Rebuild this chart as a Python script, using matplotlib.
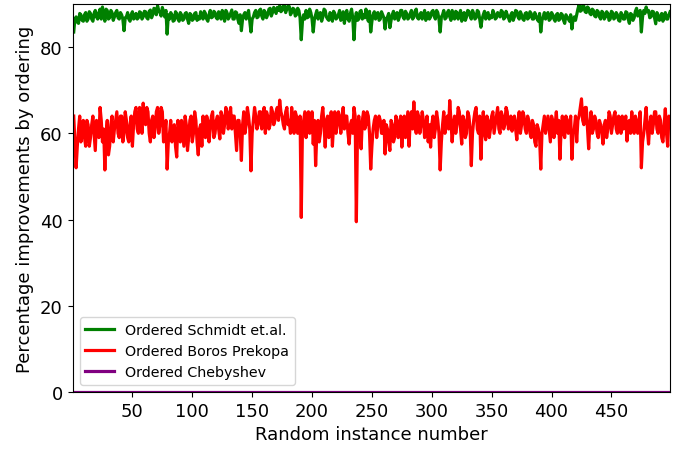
import matplotlib
matplotlib.use("Agg")
import matplotlib.pyplot as plt

# random instance numbers 1..499
instances = list(range(1, 500))

# percentage improvement, ordered Schmidt et.al.
schmidt = [
  83.5, 86.5, 87, 85.8, 85.5, 87.8, 87.5, 86.2, 86, 87.5, 88, 86, 86.5, 88.2, 87.8, 86.5, 86, 87.8, 88.5, 87,
  86.5, 88, 88.8, 86.5, 89.3, 87.5, 86, 88.8, 88.5, 86.5, 86.8, 88.5, 88, 86.2, 87, 88, 88.5, 86.8, 86.5, 88,
  87.5, 86.5, 83.8, 86.8, 87, 88, 86.5, 86, 87.5, 88.2, 86.5, 86.8, 87.8, 86.5, 86.8, 88.2, 88, 86.5, 87, 88.3,
  88.2, 86.8, 86.5, 88.3, 88.6, 86.8, 87.5, 89, 88.8, 87.5, 89.6, 88.5, 88, 87.2, 89.2, 88.2, 87, 88.5, 83, 87.5,
  86.5, 88, 87.5, 86, 86.2, 88.2, 87.8, 86.5, 86, 88, 87.5, 86.2, 86.5, 87.8, 88, 86.5, 85.5, 87.8, 87.5, 86.2,
  86.5, 87.8, 88, 86.2, 87, 86.5, 88.2, 87, 86.5, 88.3, 87.8, 86.5, 86, 87.5, 88.5, 86.8, 87, 88.3, 88, 86.8,
  86.5, 88.2, 87.5, 86.5, 88.5, 87.5, 86, 88.5, 88, 86.5, 87, 87.8, 88.6, 86.5, 86.5, 88.2, 88, 86.5, 85.5, 87.5,
  83.8, 86.5, 87.5, 88, 86.5, 87.5, 88.5, 86, 83.5, 86.5, 87, 88, 88.5, 86.8, 87, 88.5, 88.8, 87.2, 86.5, 88.5,
  88, 86.8, 87.5, 88.8, 89, 87.2, 88, 89.2, 88.5, 87.8, 89.2, 88.5, 89.6, 88.2, 88.5, 89.5, 89.6, 88, 88.8, 89.6,
  89.4, 87.5, 88, 89, 88.8, 87.2, 87.5, 89, 88.5, 86.8, 81.7, 86, 87.5, 86.5, 88.5, 86.8, 87, 88.8, 88, 86.5,
  83.5, 86.5, 87.5, 88.5, 86.5, 87.8, 88, 86, 87, 88.8, 88.5, 87, 86.5, 86.2, 88, 87.5, 86, 88.3, 87.8, 86.5,
  86.8, 87.5, 88.5, 86.2, 87, 88.2, 85.5, 87.5, 88.5, 86.5, 86, 87.8, 88.8, 86.8, 81.7, 86.5, 88, 86.2, 86.5, 88.2,
  88.5, 86.5, 87.5, 86.8, 88.8, 87.2, 86, 88.3, 83.5, 86, 87.5, 88.2, 86.5, 87.8, 88, 86.2, 86.5, 88.2, 87.5, 86.8,
  84.2, 86.5, 87, 87.8, 84.5, 86.2, 87.5, 88.3, 86.5, 87.2, 88, 86.2, 87, 88.5, 88.5, 87, 86.5, 88.3, 87.8, 86.5,
  86.8, 87.8, 88.5, 86.5, 87, 88.3, 88.8, 86.8, 86.5, 87.5, 88, 86.5, 87.5, 88.5, 86.2, 87.5, 88, 86.5, 87, 88.2,
  88.5, 87.2, 86.5, 88.5, 88, 86.5, 83.5, 87, 87.5, 88.5, 86.5, 86.8, 88, 88.5, 87, 86.2, 88.5, 87.5, 86.5, 88.3,
  88, 86.5, 87.5, 88.5, 86, 87.5, 88, 86.2, 87, 88.5, 88.3, 87.2, 86.5, 88.5, 87.8, 86.5, 86.8, 88.5, 88.2, 86.5,
  84.6, 86.5, 87.5, 88.3, 86.5, 87.8, 88, 86.5, 87.2, 86.8, 88.5, 87.8, 86.5, 86.8, 88, 87.5, 87, 88.5, 88.2, 86.5,
  86.8, 88.3, 87.5, 86.8, 86, 87.5, 88, 86.2, 87, 88.5, 88.3, 87, 86.5, 88.2, 87.5, 86.5, 86.2, 87.8, 88, 86.5,
  86.8, 88.2, 87.8, 86.5, 86.5, 88, 87.2, 86.5, 86, 87.8, 83.5, 86.2, 87, 88, 86.5, 87.5, 88, 86.2, 86.5, 88,
  87.5, 86.5, 86, 87.5, 87.8, 86.2, 86.5, 87.8, 87.5, 86.2, 85.5, 87.5, 87, 86.5, 86, 87.5, 84.2, 86.5, 87, 86.2,
  87.5, 88.8, 89.8, 88.3, 88.5, 89.6, 89.5, 88.2, 88, 89.3, 89, 87.8, 87.5, 88.8, 88.5, 87.2, 87, 88.5, 88.2, 87,
  86.5, 88.3, 88, 86.5, 87, 88.2, 87.8, 86.2, 86.5, 88.3, 88, 86.5, 86.8, 88, 87.5, 86.2, 86, 88, 87.5, 86.5,
  86.5, 88.2, 88, 86.5, 85.5, 87.8, 87.5, 86.2, 86.8, 88.3, 89, 87.2, 88, 88.5, 83.5, 87, 88.5, 87.8, 89.3, 88.2,
  88.5, 86.8, 87, 88.3, 88.2, 86.8, 85.4, 88, 87.5, 86.2, 86.5, 87.8, 86, 87.2, 88, 86.5, 86.5, 87.5, 88.2,
]

# percentage improvement, ordered Boros Prekopa
boros = [
  64, 58, 52, 57, 61, 64, 58, 60, 63, 59, 57, 63, 62, 57, 59, 62, 64, 60, 56, 63,
  62, 59, 66, 63, 58, 61, 51.5, 60, 63, 55, 57, 62, 64, 58, 61, 63, 65, 60, 59, 64,
  64, 58, 60, 65, 63, 59, 58, 62, 64, 57, 62, 65, 66, 61, 60, 66, 64, 60, 67, 63,
  62, 66, 65, 60, 58, 63, 64, 59, 61, 65, 66, 60, 62, 66, 65, 58, 60, 63, 51.7, 58,
  60, 63, 58, 61, 62, 57, 54.5, 63, 61, 58, 63, 60, 57, 64, 62, 56, 59, 63, 64, 58,
  60, 65, 63, 58, 55, 61, 62, 57, 64, 60, 59, 64, 63, 58, 61, 64, 65, 59, 60, 63,
  64, 61, 58.7, 65, 64, 60, 62, 66, 65, 61, 63, 66, 61, 64, 64, 60, 56, 63, 63, 60,
  53.7, 62, 65, 60, 62, 66, 64, 61, 51.3, 60, 63, 66, 64, 61, 62, 65, 65, 61, 64, 66,
  60, 65, 64, 61, 62, 66, 65, 62, 63, 65, 66, 63, 67.7, 65, 64, 62, 61, 65, 66, 62,
  63, 60, 66, 62, 60, 65, 64, 60, 61, 64, 40.5, 61, 63, 65, 59, 64, 65, 60, 62, 65,
  57.5, 63, 52.5, 60, 63, 58, 60, 64, 66, 62, 56.8, 63, 64, 59, 61, 65, 57, 62, 65, 60,
  62, 65, 64, 60, 63, 66, 61, 64, 64, 60, 57.5, 62, 63, 60, 66, 64, 39.5, 61, 64, 60,
  56.4, 63, 65, 61, 62, 65, 64, 60, 51.7, 57, 61, 63, 64, 59, 62, 64, 63, 60, 60, 63,
  55.2, 62, 61, 58, 56, 63, 62, 58, 59, 64, 63, 59, 61, 64, 56.8, 62, 64, 59, 62, 65,
  57, 63, 65, 61, 67.3, 62, 60, 65, 64, 60, 62, 65, 63, 59, 61, 64, 58, 62, 56.8, 62,
  64, 59, 61, 65, 63, 60, 51.5, 58, 62, 65, 60, 63, 64, 61, 67.6, 63, 58, 62, 64, 60,
  62, 66, 65, 61, 57.5, 64, 63, 59, 60, 65, 64, 61, 52.5, 60, 63, 65, 66, 61, 60, 64,
  54, 61, 65, 60, 58.5, 64, 63, 59, 61, 64, 65, 60, 62, 64, 66, 61, 60, 65, 64, 61,
  62, 66, 65, 61, 63, 64, 60.5, 63, 64, 61, 58.5, 63, 65, 60, 62, 65, 64, 61, 60, 64,
  63, 60, 59, 63, 62, 58, 57, 62, 61, 59, 51.7, 60, 62, 64, 60, 62, 64, 61, 58, 64,
  63, 59, 62, 65, 60, 63, 54, 61, 64, 60, 59, 64, 63, 60, 62, 64, 54, 60, 61, 64,
  58, 63, 64, 66, 68, 63, 62, 66, 66, 61, 56.4, 62, 65, 60, 61, 64, 63, 60, 59, 63,
  62, 60, 57.5, 62, 63, 59, 61, 65, 64, 60, 62, 64, 65, 61, 60, 64, 63, 60, 64, 61,
  62, 64, 58.2, 62, 63, 60, 65, 61, 60, 64, 63, 60, 62, 65, 52, 58, 60, 63, 66, 61,
  57.5, 62, 64, 60, 62, 65, 65, 61, 60, 64, 63, 59, 58, 62, 65.7, 60, 57, 64, 62,
]

# ordered Chebyshev gives no improvement on any instance
chebyshev = [0.0] * len(instances)

fig = plt.figure(figsize=(6.81, 4.52), dpi=100)
ax = fig.add_subplot(111)
fig.subplots_adjust(left=0.1065, right=0.984, top=0.989, bottom=0.1305)

ax.plot(instances, schmidt, color='green', lw=2.3, label='Ordered Schmidt et.al.')
ax.plot(instances, boros, color='red', lw=2.3, label='Ordered Boros Prekopa')
ax.plot(instances, chebyshev, color='purple', lw=2.3, label='Ordered Chebyshev')

ax.set_xlim(0, 499)
ax.set_ylim(0, 90)
ax.set_xticks(range(50, 500, 50))
ax.set_yticks(range(0, 90, 20))
ax.tick_params(labelsize=13)

ax.set_xlabel('Random instance number', fontsize=13)
ax.set_ylabel('Percentage improvements by ordering', fontsize=13)
ax.legend(loc='lower left', fontsize=10.3)

fig.savefig('out.png', dpi=100)
